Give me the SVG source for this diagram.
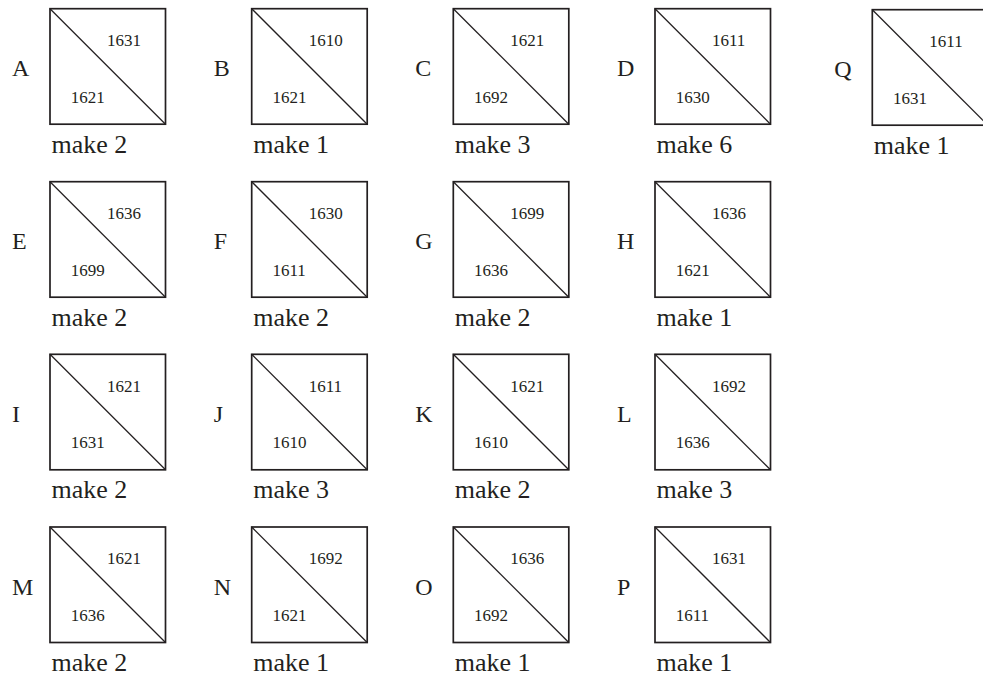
<svg xmlns="http://www.w3.org/2000/svg" width="983" height="679" viewBox="0 0 983 679" font-family="Liberation Serif, Times New Roman, serif">
<style>
.sq{fill:#fff;stroke:#231f20;stroke-width:1.7}
.dg{stroke:#231f20;stroke-width:1.3}
text{font-family:"Liberation Serif","Times New Roman",serif;fill:#231f20}
.lb{font-size:24px}
.nm{font-size:17px}
.mk{font-size:26px}
</style>
<defs>
<g id="blk"><rect class="sq" x="0" y="0" width="115.5" height="115.5"/><line class="dg" x1="0" y1="0" x2="115.5" y2="115.5"/></g>
</defs>
<rect width="983" height="679" fill="#fff"/>
<g id="A" transform="translate(50,8.7)"><use href="#blk"/><text class="lb" x="-38" y="67.5">A</text><text class="nm" x="57" y="37.3">1631</text><text class="nm" x="20.7" y="94">1621</text><text class="mk" x="1.5" y="144">make 2</text></g>
<g id="B" transform="translate(251.7,8.7)"><use href="#blk"/><text class="lb" x="-38" y="67.5">B</text><text class="nm" x="57" y="37.3">1610</text><text class="nm" x="20.7" y="94">1621</text><text class="mk" x="1.5" y="144">make 1</text></g>
<g id="C" transform="translate(453.3,8.7)"><use href="#blk"/><text class="lb" x="-38" y="67.5">C</text><text class="nm" x="57" y="37.3">1621</text><text class="nm" x="20.7" y="94">1692</text><text class="mk" x="1.5" y="144">make 3</text></g>
<g id="D" transform="translate(655,8.7)"><use href="#blk"/><text class="lb" x="-38" y="67.5">D</text><text class="nm" x="57" y="37.3">1611</text><text class="nm" x="20.7" y="94">1630</text><text class="mk" x="1.5" y="144">make 6</text></g>
<g id="Q" transform="translate(872.3,9.7)"><use href="#blk"/><text class="lb" x="-38" y="67.5">Q</text><text class="nm" x="57" y="37.3">1611</text><text class="nm" x="20.7" y="94">1631</text><text class="mk" x="1.5" y="144">make 1</text></g>
<g id="E" transform="translate(50,181.7)"><use href="#blk"/><text class="lb" x="-38" y="67.5">E</text><text class="nm" x="57" y="37.3">1636</text><text class="nm" x="20.7" y="94">1699</text><text class="mk" x="1.5" y="144">make 2</text></g>
<g id="F" transform="translate(251.7,181.7)"><use href="#blk"/><text class="lb" x="-38" y="67.5">F</text><text class="nm" x="57" y="37.3">1630</text><text class="nm" x="20.7" y="94">1611</text><text class="mk" x="1.5" y="144">make 2</text></g>
<g id="G" transform="translate(453.3,181.7)"><use href="#blk"/><text class="lb" x="-38" y="67.5">G</text><text class="nm" x="57" y="37.3">1699</text><text class="nm" x="20.7" y="94">1636</text><text class="mk" x="1.5" y="144">make 2</text></g>
<g id="H" transform="translate(655,181.7)"><use href="#blk"/><text class="lb" x="-38" y="67.5">H</text><text class="nm" x="57" y="37.3">1636</text><text class="nm" x="20.7" y="94">1621</text><text class="mk" x="1.5" y="144">make 1</text></g>
<g id="I" transform="translate(50,354.3)"><use href="#blk"/><text class="lb" x="-38" y="67.5">I</text><text class="nm" x="57" y="37.3">1621</text><text class="nm" x="20.7" y="94">1631</text><text class="mk" x="1.5" y="144">make 2</text></g>
<g id="J" transform="translate(251.7,354.3)"><use href="#blk"/><text class="lb" x="-38" y="67.5">J</text><text class="nm" x="57" y="37.3">1611</text><text class="nm" x="20.7" y="94">1610</text><text class="mk" x="1.5" y="144">make 3</text></g>
<g id="K" transform="translate(453.3,354.3)"><use href="#blk"/><text class="lb" x="-38" y="67.5">K</text><text class="nm" x="57" y="37.3">1621</text><text class="nm" x="20.7" y="94">1610</text><text class="mk" x="1.5" y="144">make 2</text></g>
<g id="L" transform="translate(655,354.3)"><use href="#blk"/><text class="lb" x="-38" y="67.5">L</text><text class="nm" x="57" y="37.3">1692</text><text class="nm" x="20.7" y="94">1636</text><text class="mk" x="1.5" y="144">make 3</text></g>
<g id="M" transform="translate(50,527)"><use href="#blk"/><text class="lb" x="-38" y="67.5">M</text><text class="nm" x="57" y="37.3">1621</text><text class="nm" x="20.7" y="94">1636</text><text class="mk" x="1.5" y="144">make 2</text></g>
<g id="N" transform="translate(251.7,527)"><use href="#blk"/><text class="lb" x="-38" y="67.5">N</text><text class="nm" x="57" y="37.3">1692</text><text class="nm" x="20.7" y="94">1621</text><text class="mk" x="1.5" y="144">make 1</text></g>
<g id="O" transform="translate(453.3,527)"><use href="#blk"/><text class="lb" x="-38" y="67.5">O</text><text class="nm" x="57" y="37.3">1636</text><text class="nm" x="20.7" y="94">1692</text><text class="mk" x="1.5" y="144">make 1</text></g>
<g id="P" transform="translate(655,527)"><use href="#blk"/><text class="lb" x="-38" y="67.5">P</text><text class="nm" x="57" y="37.3">1631</text><text class="nm" x="20.7" y="94">1611</text><text class="mk" x="1.5" y="144">make 1</text></g>
</svg>
